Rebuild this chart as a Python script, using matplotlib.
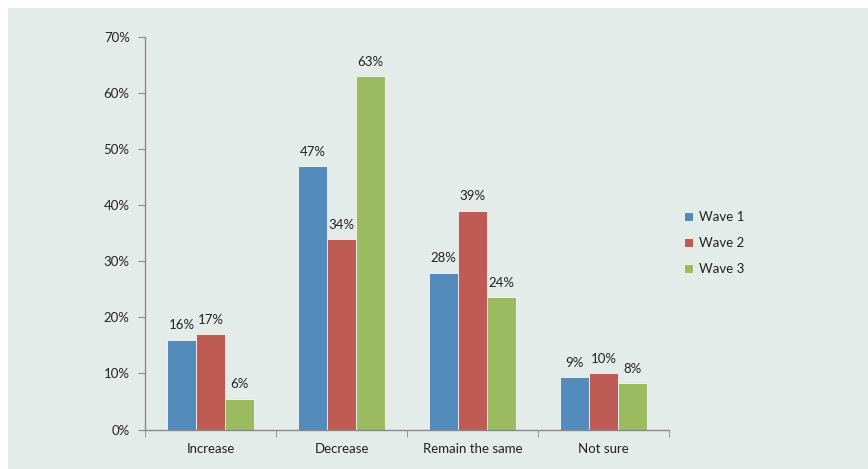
import matplotlib
matplotlib.use("Agg")
import matplotlib.pyplot as plt
from matplotlib.patches import Rectangle
import numpy as np

categories = ["Increase", "Decrease", "Remain the same", "Not sure"]
series_names = ["Wave 1", "Wave 2", "Wave 3"]
wave1 = [16.0, 47.0, 28.0, 9.3]
wave2 = [17.0, 34.0, 39.0, 10.1]
wave3 = [5.5, 63.0, 23.6, 8.3]
labels1 = ["16%", "47%", "28%", "9%"]
labels2 = ["17%", "34%", "39%", "10%"]
labels3 = ["6%", "63%", "24%", "8%"]
colors = ["#538bbd", "#bf5b55", "#9bbb61"]
bg = "#e3ece8"

plt.rcParams["font.family"] = ["Lato", "DejaVu Sans"]

fig = plt.figure(figsize=(8.68, 4.69), dpi=100)
bgrect = Rectangle((8 / 868, 0), 1, 1 - 8 / 469, transform=fig.transFigure,
                   facecolor=bg, edgecolor="none", zorder=-10)
fig.add_artist(bgrect)
ax = fig.add_axes([145 / 868, 1 - 429.5 / 469, (669 - 145) / 868, (429.5 - 37) / 469])
ax.set_facecolor("none")

x = np.arange(len(categories))
w = 0.22
all_vals = [wave1, wave2, wave3]
all_labels = [labels1, labels2, labels3]
for i in range(3):
    bars = ax.bar(x + (i - 1) * w, all_vals[i], w, color=colors[i], edgecolor="#f4f7f6",
                  linewidth=0.6, label=series_names[i], zorder=2)
    for b, lab in zip(bars, all_labels[i]):
        ax.annotate(lab, (b.get_x() + b.get_width() / 2, b.get_height()),
                    xytext=(0, 6), textcoords="offset points", ha="center", va="bottom",
                    fontsize=9.5, color="#222222")

ax.set_xlim(-0.5, len(categories) - 0.5)
ax.set_ylim(0, 70)
ax.set_yticks(np.arange(0, 71, 10))
ax.set_yticklabels([f"{v}%" for v in range(0, 71, 10)], fontsize=9.5, color="#222222")
ax.set_xticks(x)
ax.set_xticklabels(categories, fontsize=9.5, color="#222222")
ax.set_xticks(np.arange(-0.5, len(categories), 1), minor=True)
ax.tick_params(axis="x", which="major", length=0, pad=10)
ax.tick_params(axis="x", which="minor", length=5, color="#888888", direction="out")
ax.tick_params(axis="y", length=5, color="#888888", direction="out", pad=6)
for s in ["top", "right"]:
    ax.spines[s].set_visible(False)
for s in ["left", "bottom"]:
    ax.spines[s].set_color("#888888")
    ax.spines[s].set_linewidth(1.0)

leg = ax.legend(loc="center left", bbox_to_anchor=(684 / 868, 1 - 243 / 469),
                bbox_transform=fig.transFigure, frameon=False, fontsize=9.5,
                borderpad=0, borderaxespad=0,
                handlelength=0.7, handleheight=0.7, handletextpad=0.4, labelspacing=1.05)
for t in leg.get_texts():
    t.set_color("#222222")

fig.savefig("out.png", dpi=100)
